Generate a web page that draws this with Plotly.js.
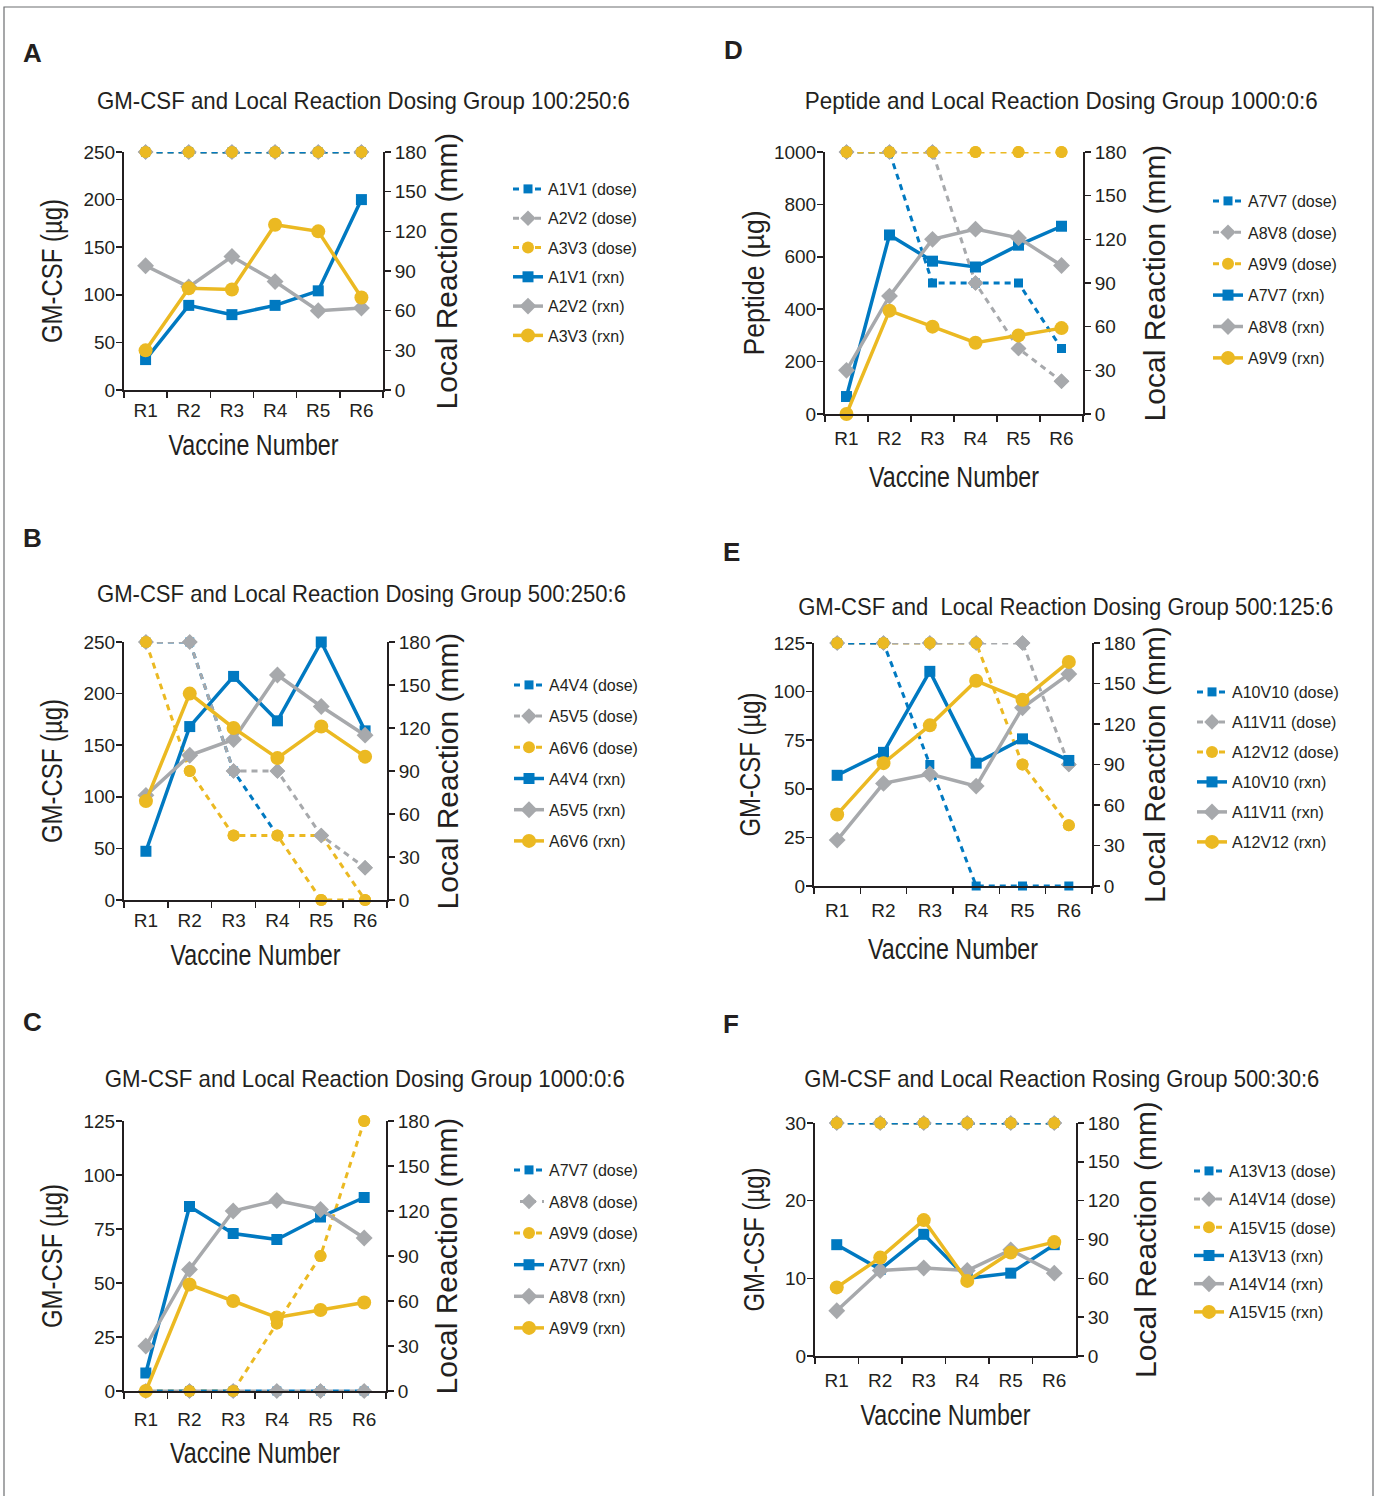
<!DOCTYPE html>
<html>
<head>
<meta charset="utf-8">
<script src="https://cdn.plot.ly/plotly-3.0.1.min.js"></script>
<style>html,body{margin:0;padding:0;background:#fff;}#chart{width:1378px;height:1496px;}</style>
</head>
<body>
<div id="chart"></div>
<script>
// ---------------- DATA ----------------
const categories = ['R1','R2','R3','R4','R5','R6'];

// Panel A  (GM-CSF µg dose, local reaction mm)
const A_names = ['A1V1','A2V2','A3V3'];
const A_dose1 = [250,250,250,250,250,250];
const A_dose2 = [250,250,250,250,250,250];
const A_dose3 = [250,250,250,250,250,250];
const A_rxn1 = [23,64,57,64,75,144];
const A_rxn2 = [94,78,101,82,60,62];
const A_rxn3 = [30,77,76,125,120,70];

// Panel B
const B_names = ['A4V4','A5V5','A6V6'];
const B_dose1 = [250,250,125,62.5,null,null];
const B_dose2 = [250,250,125,125,62.5,31.25];
const B_dose3 = [250,125,62.5,62.5,0,0];
const B_dose3b = [null,null,null,62.5,62.5,0];
const B_rxn1 = [34,121,156,125,180,118];
const B_rxn2 = [73,101,112,157,135,115];
const B_rxn3 = [69,144,120,99,121,100];

// Panel C  (GM-CSF dose)
const C_names = ['A7V7','A8V8','A9V9'];
const C_dose1 = [0,0,0,0,0,0];
const C_dose2 = [0,0,0,0,0,0];
const C_dose3 = [0,0,0,31.25,62.5,125];
const C_rxn1 = [12,123,105,101,116,129];
const C_rxn2 = [30,81,120,127,121,102];
const C_rxn3 = [0,71,60,49,54,59];

// Panel D  (Peptide dose)
const D_names = ['A7V7','A8V8','A9V9'];
const D_dose1 = [1000,1000,500,500,500,250];
const D_dose2 = [1000,1000,1000,500,250,125];
const D_dose3 = [1000,1000,1000,1000,1000,1000];
const D_rxn1 = [12,123,105,101,116,129];
const D_rxn2 = [30,81,120,127,121,102];
const D_rxn3 = [0,71,60,49,54,59];

// Panel E
const E_names = ['A10V10','A11V11','A12V12'];
const E_dose1 = [125,125,62.5,0,0,0];
const E_dose2 = [125,125,125,125,125,62.5];
const E_dose3 = [125,125,125,125,62.5,31.25];
const E_rxn1 = [82,99,159,91,109,93];
const E_rxn2 = [34,76,83,74,132,157];
const E_rxn3 = [53,91,119,152,138,166];

// Panel F
const F_names = ['A13V13','A14V14','A15V15'];
const F_dose1 = [30,30,30,30,30,30];
const F_dose2 = [30,30,30,30,30,30];
const F_dose3 = [30,30,30,30,30,30];
const F_rxn1 = [86,67,94,60,64,86];
const F_rxn2 = [35,66,68,66,82,64];
const F_rxn3 = [53,76,105,58,80,88];

// ---------------- STYLE / LAYOUT ----------------
const W = 1378, H = 1496;
const fx = p => p / W;
const fy = p => 1 - p / H;
const INK = '#231f20';
const COLORS = ['#0079c1', '#a7a9ac', '#ebb922'];
const SYMBOLS = ['square', 'diamond', 'circle'];
const RXN_SIZE = [11, 13, 14];
const DOSE_SIZE = [9, 12, 12];
const DASH = '6px,5px';
const DASH_SHIFTED = '0px,6px,5px,0px';
const NARROW = "'Liberation Sans Narrow', 'Liberation Sans', Arial, sans-serif";
const REG = "'Liberation Sans', Arial, Helvetica, sans-serif";
const AXIS_TITLE_WIDTHS = {'Vaccine Number': 170, 'GM-CSF (µg)': 144, 'Peptide (µg)': 145};

const panels = [
  {letter:'A', title:'GM-CSF and Local Reaction Dosing Group 100:250:6', tw:533, tfs:24, ytitle:'GM-CSF (µg)', names:A_names,
   doses:[A_dose1,A_dose2,A_dose3], rxns:[A_rxn1,A_rxn2,A_rxn3], ymax:250, dtick:50, order:[2,1,0],
   L:124, R:383, T:152, B:390, tx:363, ty:101, lx:21, ly:53, legx:508, legy:172, gap:5.5,
   tls:2, xst:14, ylst:12, yrst:10},
  {letter:'B', title:'GM-CSF and Local Reaction Dosing Group 500:250:6', tw:529, tfs:24, ytitle:'GM-CSF (µg)', names:B_names,
   doses:[B_dose1,B_dose2,B_dose3], extra:B_dose3b, rxns:[B_rxn1,B_rxn2,B_rxn3], ymax:250, dtick:50, order:[0,1,2],
   L:124, R:387, T:642, B:900, tx:362, ty:594, lx:21, ly:538, legx:509, legy:668, gap:7.4,
   tls:2, xst:14, ylst:12, yrst:6},
  {letter:'C', title:'GM-CSF and Local Reaction Dosing Group 1000:0:6', tw:520, tfs:24, ytitle:'GM-CSF (µg)', names:C_names,
   doses:[C_dose1,C_dose2,C_dose3], rxns:[C_rxn1,C_rxn2,C_rxn3], ymax:125, dtick:25, order:[2,0,1], grayShift:true,
   L:124, R:386, T:1121, B:1391, tx:365, ty:1078, lx:21, ly:1022, legx:509, legy:1153, gap:7.8,
   tls:10, xst:13, ylst:12, yrst:7},
  {letter:'D', title:'Peptide and Local Reaction Dosing Group 1000:0:6', tw:513, tfs:24, ytitle:'Peptide (µg)', names:D_names,
   doses:[D_dose1,D_dose2,D_dose3], rxns:[D_rxn1,D_rxn2,D_rxn3], ymax:1000, dtick:200, order:[0,1,2],
   L:825, R:1083, T:152, B:414, tx:1061, ty:101, lx:722, ly:50, legx:1208, legy:184, gap:7.6,
   tls:6, xst:18, ylst:0, yrst:18},
  {letter:'E', title:'GM-CSF and  Local Reaction Dosing Group 500:125:6', tw:535, tfs:23, ytitle:'GM-CSF (µg)', names:E_names,
   doses:[E_dose1,E_dose2,E_dose3], rxns:[E_rxn1,E_rxn2,E_rxn3], ymax:125, dtick:25, order:[2,1,0],
   L:814, R:1092, T:643, B:886, tx:1065, ty:607, lx:721, ly:552, legx:1192, legy:675, gap:6.2,
   tls:6, xst:18, ylst:4, yrst:9},
  {letter:'F', title:'GM-CSF and Local Reaction Rosing Group 500:30:6', tw:515, tfs:24, ytitle:'GM-CSF (µg)', names:F_names,
   doses:[F_dose1,F_dose2,F_dose3], rxns:[F_rxn1,F_rxn2,F_rxn3], ymax:30, dtick:10, order:[2,1,0],
   L:815, R:1076, T:1123, B:1356, tx:1062, ty:1078, lx:721, ly:1024, legx:1189, legy:1154, gap:4.4,
   tls:6, xst:14, ylst:12, yrst:16}
];

const axName = (p, n) => n === 1 ? p + 'axis' : p + 'axis' + n;
const ref = (p, n) => n === 1 ? p : p + n;

const data = [];
const narrowWidths = Object.assign({}, AXIS_TITLE_WIDTHS);
const layout = {
  width: W, height: H,
  margin: {l:0, r:0, t:0, b:0},
  paper_bgcolor: '#ffffff', plot_bgcolor: 'rgba(0,0,0,0)',
  font: {family: REG, color: INK, size: 19},
  showlegend: true,
  annotations: [],
  shapes: [{type:'rect', xref:'paper', yref:'paper', x0:fx(4), x1:fx(1373), y0:fy(1502), y1:fy(7),
            line:{color:'#6d6e71', width:1.2}, fillcolor:'rgba(0,0,0,0)', layer:'below'}]
};

panels.forEach((p, k) => {
  const xn = k + 1, yl = 2*k + 1, yr = 2*k + 2;
  const legKey = k === 0 ? 'legend' : 'legend' + (k + 1);
  const xr = ref('x', xn), ylr = ref('y', yl), yrr = ref('y', yr);
  narrowWidths[p.title] = p.tw;

  const common = {
    showline:true, linewidth:2, linecolor:INK, showgrid:false, zeroline:false,
    ticks:'outside', ticklen:6, tickwidth:1.5, tickcolor:INK, fixedrange:true,
    tickfont:{family:REG, size:19, color:INK}
  };
  layout[axName('x', xn)] = Object.assign({}, common, {
    domain:[fx(p.L), fx(p.R)], anchor: ylr, type:'category',
    categoryorder:'array', categoryarray:categories, range:[-0.5, 5.5], tickson:'boundaries',
    ticklabelstandoff:p.tls,
    title:{text:'Vaccine Number', font:{family:NARROW, size:30, color:INK}, standoff:p.xst}
  });
  layout[axName('y', yl)] = Object.assign({}, common, {
    domain:[fy(p.B), fy(p.T)], anchor: xr, range:[0, p.ymax], dtick:p.dtick, tick0:0,
    ticklabelstandoff:-3,
    title:{text:p.ytitle, font:{family:NARROW, size:30, color:INK}, standoff:p.ylst}
  });
  layout[axName('y', yr)] = Object.assign({}, common, {
    domain:[fy(p.B), fy(p.T)], anchor: xr, overlaying: ylr, side:'right',
    range:[0, 180], dtick:30, tick0:0,
    title:{text:'Local Reaction (mm)', font:{family:REG, size:30, color:INK}, standoff:p.yrst}
  });
  layout[legKey] = {
    x: fx(p.legx), y: fy(p.legy), xanchor:'left', yanchor:'top',
    font:{family:REG, size:16, color:INK}, bgcolor:'rgba(0,0,0,0)',
    tracegroupgap:p.gap, traceorder:'grouped', itemclick:false, itemdoubleclick:false
  };

  // dose lines (stacking order per panel), legend order via legendrank
  p.order.forEach(i => {
    const dash = (i === 1 && p.grayShift) ? DASH_SHIFTED : DASH;
    data.push({
      x:categories, y:p.doses[i], xaxis:xr, yaxis:ylr, type:'scatter', mode:'lines+markers',
      name:p.names[i] + ' (dose)', legend:legKey, legendgroup:p.letter + 'd' + i, legendrank:i + 1,
      line:{color:COLORS[i], width:3, dash:dash},
      marker:{symbol:SYMBOLS[i], size:DOSE_SIZE[i], color:COLORS[i], line:{width:0}},
      cliponaxis:false, connectgaps:false
    });
    if (i === 2 && p.extra) {
      data.push({x:categories, y:p.extra, xaxis:xr, yaxis:ylr, type:'scatter', mode:'lines',
        line:{color:COLORS[2], width:3, dash:DASH}, showlegend:false, legend:legKey,
        cliponaxis:false, name:p.names[2] + ' (dose)'});
    }
  });
  // dose markers: yellow above grey above blue
  [1, 2].forEach(i => {
    data.push({
      x:categories, y:p.doses[i], xaxis:xr, yaxis:ylr, type:'scatter', mode:'markers',
      name:p.names[i] + ' (dose)', legend:legKey, showlegend:false,
      marker:{symbol:SYMBOLS[i], size:DOSE_SIZE[i], color:COLORS[i], line:{width:0}},
      cliponaxis:false
    });
  });
  for (let i = 0; i < 3; i++) {
    data.push({
      x:categories, y:p.rxns[i], xaxis:xr, yaxis:yrr, type:'scatter', mode:'lines+markers',
      name:p.names[i] + ' (rxn)', legend:legKey, legendgroup:p.letter + 'r' + i, legendrank:i + 4,
      line:{color:COLORS[i], width:3.5},
      marker:{symbol:SYMBOLS[i], size:RXN_SIZE[i], color:COLORS[i], line:{width:0}},
      cliponaxis:false
    });
  }

  layout.annotations.push({text:'<b>' + p.letter + '</b>', xref:'paper', yref:'paper',
    x:fx(p.lx), y:fy(p.ly), xanchor:'left', yanchor:'middle', showarrow:false,
    font:{family:REG, size:26, color:INK}});
  layout.annotations.push({text:p.title, xref:'paper', yref:'paper',
    x:fx(p.tx), y:fy(p.ty), xanchor:'center', yanchor:'middle', showarrow:false,
    font:{family:NARROW, size:p.tfs, color:INK}});
});

// condensed look for the narrow-font texts (no condensed face installed)
function condense(gd) {
  gd.querySelectorAll('text').forEach(t => {
    const st = t.getAttribute('style') || '';
    if (st.indexOf('Narrow') < 0) return;
    const w = narrowWidths[t.textContent];
    if (!w) return;
    if (t.getComputedTextLength() > w) {
      t.setAttribute('textLength', w);
      t.setAttribute('lengthAdjust', 'spacingAndGlyphs');
    }
  });
}

Plotly.newPlot('chart', data, layout, {displayModeBar:false, staticPlot:true}).then(condense);
</script>
</body>
</html>
